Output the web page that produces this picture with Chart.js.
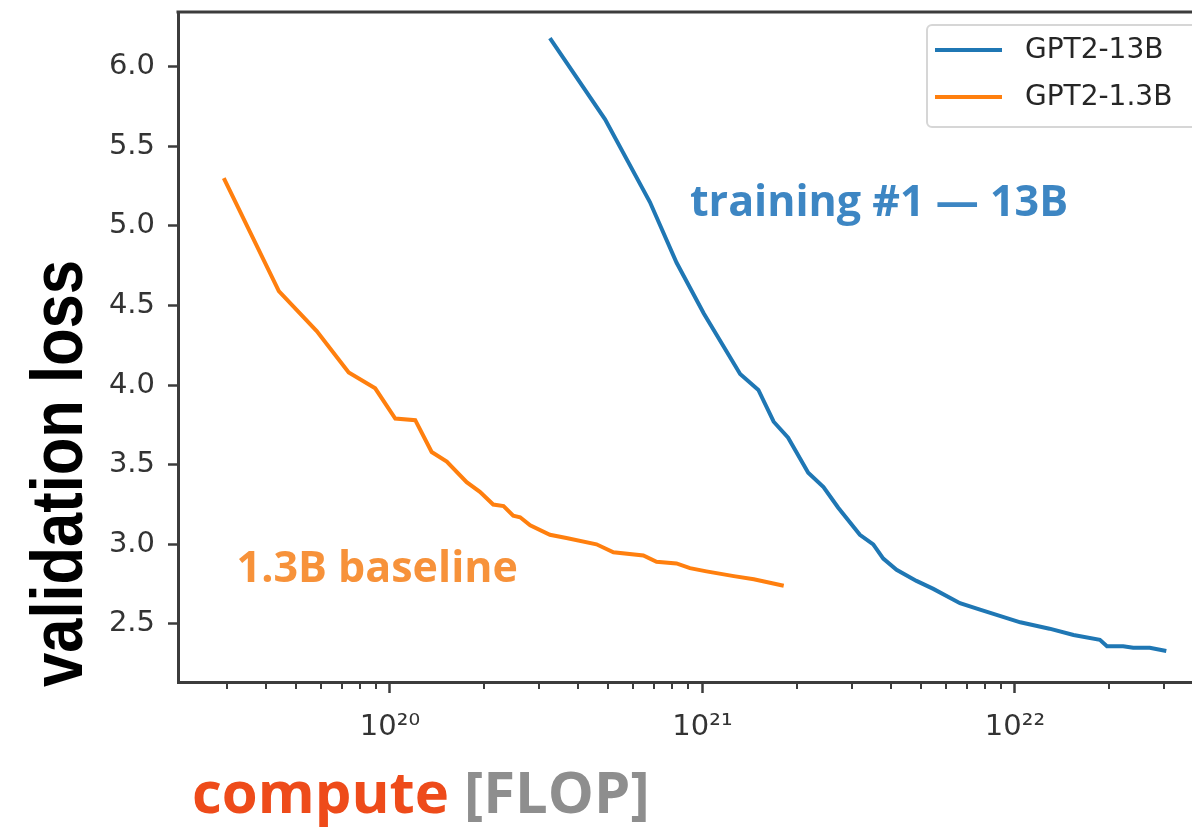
<!DOCTYPE html>
<html>
<head>
<meta charset="utf-8">
<script src="https://cdn.jsdelivr.net/npm/chart.js@4.4.1/dist/chart.umd.min.js"></script>
<style>
  html, body { margin: 0; padding: 0; background: #fff; overflow: hidden; }
  #wrap { width: 1192px; height: 832px; }
</style>
</head>
<body>
<div id="wrap"><canvas id="lossChart" width="1192" height="832"></canvas></div>
<script>
// =========================
// DATA
// =========================

const seriesNames = ["GPT2-13B", "GPT2-1.3B"];

const flopBig = [
  3.25e20, 4.88e20, 6.79e20, 8.26e20, 1.01e21, 1.32e21, 1.51e21, 1.69e21,
  1.88e21, 2.18e21, 2.44e21, 2.72e21, 3.19e21, 3.52e21, 3.79e21, 4.18e21,
  4.84e21, 5.48e21, 6.67e21, 7.73e21, 1.04e22, 1.29e22, 1.54e22, 1.87e22,
  1.97e22, 2.22e22, 2.39e22, 2.70e22, 3.05e22
];
const lossBig = [
  6.18, 5.67, 5.15, 4.77, 4.45, 4.07, 3.97, 3.77,
  3.67, 3.45, 3.36, 3.23, 3.06, 3.00, 2.91, 2.84,
  2.77, 2.72, 2.63, 2.59, 2.51, 2.47, 2.43, 2.40,
  2.36, 2.36, 2.35, 2.35, 2.33
];

const flopSmall = [
  2.94e19, 4.41e19, 5.83e19, 7.38e19, 8.97e19, 1.04e20, 1.205e20, 1.36e20,
  1.52e20, 1.76e20, 1.94e20, 2.14e20, 2.31e20, 2.48e20, 2.61e20, 2.81e20,
  3.25e20, 3.67e20, 4.58e20, 5.19e20, 6.47e20, 7.13e20, 8.26e20, 9.12e20,
  1.03e21, 1.26e21, 1.46e21, 1.82e21
];
const lossSmall = [
  5.30, 4.59, 4.34, 4.08, 3.98, 3.79, 3.78, 3.58,
  3.52, 3.39, 3.33, 3.25, 3.24, 3.18, 3.17, 3.12,
  3.06, 3.04, 3.00, 2.95, 2.93, 2.89, 2.88, 2.85,
  2.83, 2.80, 2.78, 2.74
];

const yTicks = [2.5, 3.0, 3.5, 4.0, 4.5, 5.0, 5.5, 6.0];
const xTicks = [1e20, 1e21, 1e22];

// text notes, anchored in data units
const notes = [
  { text: "training #1 \u2014 13B", x: 9.12e20, y: 5.06, color: "#3d86c3", size: 43 },
  { text: "1.3B baseline", x: 3.23e19, y: 2.765, color: "#f7923a", size: 43 }
];

// =========================
// STYLE
// =========================

const spine = "#3c3c3c";
const tickFont = { family: "DejaVu Sans", size: 29, lineHeight: 1.2 };
const supDigits = "\u2070\u00b9\u00b2\u00b3\u2074\u2075\u2076\u2077\u2078\u2079";

function sup(n)
{
  return String(n).split("").map(d => supDigits[+d]).join("");
}

function pairs(xs, ys)
{
  return xs.map((x, i) => ({ x: x, y: ys[i] }));
}

// no extra room for end labels, the frame is fixed
function noPad(s)
{
  s.paddingTop = 0;
  s.paddingBottom = 0;
  s.paddingLeft = 0;
  s.paddingRight = 0;
}

// =========================
// PLUGIN: frame, minor ticks, legend, notes, titles
// =========================

const extras = {
  id: "extras",
  afterDraw(chart)
  {
    const { ctx, chartArea: a, scales } = chart;
    const xs = scales.x, ys = scales.y;

    ctx.save();

    // top spine
    ctx.strokeStyle = spine;
    ctx.lineWidth = 3;
    ctx.beginPath();
    ctx.moveTo(a.left - 1.5, a.top);
    ctx.lineTo(a.right + 10, a.top);
    ctx.stroke();

    // minor x ticks
    ctx.lineWidth = 2;
    for (let e = 19; e <= 22; e++)
    {
      for (let k = 2; k <= 9; k++)
      {
        const v = k * Math.pow(10, e);
        if (v < xs.min || v > xs.max) continue;
        const px = Math.round(xs.getPixelForValue(v));
        ctx.beginPath();
        ctx.moveTo(px, a.bottom);
        ctx.lineTo(px, a.bottom + 7);
        ctx.stroke();
      }
    }

    // notes
    notes.forEach(n =>
    {
      ctx.font = "bold " + n.size + "px 'Open Sans'";
      ctx.fillStyle = n.color;
      ctx.textBaseline = "alphabetic";
      ctx.textAlign = "left";
      ctx.fillText(n.text, xs.getPixelForValue(n.x), ys.getPixelForValue(n.y));
    });

    // legend
    const bx = a.right - 264, by = a.top + 13;
    ctx.fillStyle = "rgba(255,255,255,0.85)";
    ctx.strokeStyle = "#d6d6d6";
    ctx.lineWidth = 2;
    ctx.beginPath();
    ctx.roundRect(bx, by, 300, 102, 5);
    ctx.fill();
    ctx.stroke();

    ctx.font = "28px 'DejaVu Sans'";
    ctx.textBaseline = "middle";
    chart.data.datasets.forEach((ds, i) =>
    {
      const ly = by + 25 + i * 47;
      ctx.strokeStyle = ds.borderColor;
      ctx.lineWidth = 4;
      ctx.beginPath();
      ctx.moveTo(bx + 8, ly);
      ctx.lineTo(bx + 75, ly);
      ctx.stroke();
      ctx.fillStyle = "#262626";
      ctx.fillText(ds.label, bx + 98, ly + 1);
    });

    // x axis title, two colours
    const tx = a.left + 14, ty = a.bottom + 131;
    ctx.font = "bold 58px 'Open Sans'";
    ctx.textBaseline = "alphabetic";
    ctx.fillStyle = "#ee4b1a";
    ctx.fillText("compute ", tx, ty);
    const w = ctx.measureText("compute ").width;
    ctx.fillStyle = "#8e8e8e";
    ctx.fillText("[FLOP]", tx + w, ty);

    // y axis title, condensed bold
    ctx.save();
    ctx.translate(82, a.bottom + 5);
    ctx.rotate(-Math.PI / 2);
    ctx.font = "bold 72px 'Liberation Sans'";
    const tw = ctx.measureText("validation loss").width;
    ctx.scale(427 / tw, 1);
    ctx.fillStyle = "#000";
    ctx.fillText("validation loss", 0, 0);
    ctx.restore();

    ctx.restore();
  }
};

// =========================
// CHART
// =========================

const lossChart = new Chart(document.getElementById("lossChart"), {
  type: "line",
  data: {
    datasets: [
      {
        label: seriesNames[0],
        data: pairs(flopBig, lossBig),
        borderColor: "#1f77b4",
        borderWidth: 4,
        pointRadius: 0,
        tension: 0
      },
      {
        label: seriesNames[1],
        data: pairs(flopSmall, lossSmall),
        borderColor: "#ff7f0e",
        borderWidth: 4,
        pointRadius: 0,
        tension: 0
      }
    ]
  },
  options: {
    responsive: false,
    animation: false,
    events: [],
    layout: { padding: { left: 0, top: 12, right: 1, bottom: 0 } },
    plugins: {
      legend: { display: false },
      tooltip: { enabled: false }
    },
    scales: {
      x: {
        type: "logarithmic",
        bounds: "data",
        min: 2.098e19,
        max: 3.659e22,
        afterFit: s => { s.height = 150; noPad(s); },
        afterBuildTicks: s => { s.ticks = xTicks.map(v => ({ value: v })); },
        ticks: {
          autoSkip: false,
          maxRotation: 0,
          padding: 17,
          color: "#333",
          font: tickFont,
          callback: v => "10" + sup(Math.round(Math.log10(v)))
        },
        grid: {
          drawOnChartArea: false,
          tickLength: 11,
          tickWidth: 2.5,
          tickColor: spine
        },
        border: { display: true, color: spine, width: 3 }
      },
      y: {
        type: "linear",
        min: 2.135,
        max: 6.344,
        afterFit: s => { s.width = 178; noPad(s); },
        afterBuildTicks: s => { s.ticks = yTicks.map(v => ({ value: v })); },
        ticks: {
          padding: 13,
          color: "#333",
          font: tickFont,
          callback: v => v.toFixed(1)
        },
        grid: {
          drawOnChartArea: false,
          tickLength: 10,
          tickWidth: 2.5,
          tickColor: spine
        },
        border: { display: true, color: spine, width: 3 }
      }
    }
  },
  plugins: [extras]
});
</script>
</body>
</html>
